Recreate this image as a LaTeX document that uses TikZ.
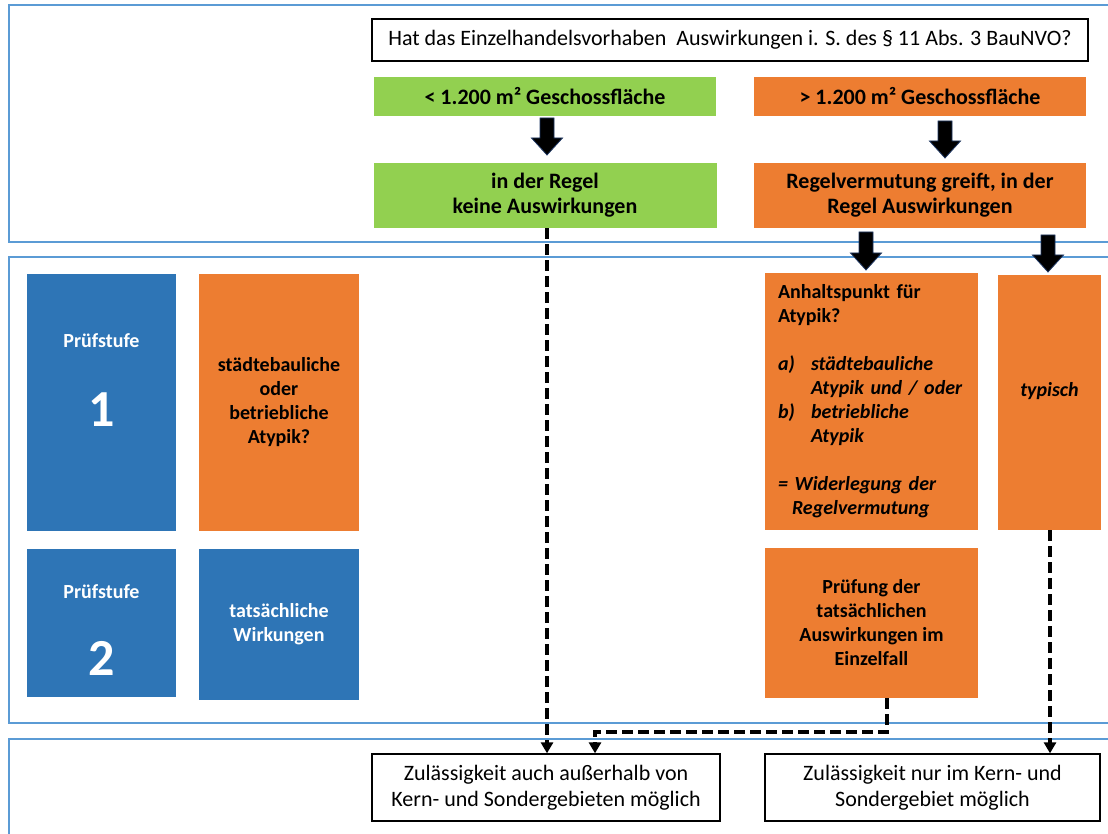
\documentclass[tikz,border=0pt]{standalone}
\usepackage{fontspec}
\setmainfont{Carlito}
\usetikzlibrary{arrows.meta,calc}
\definecolor{bandblue}{HTML}{5B9BD5}
\definecolor{boxblue}{HTML}{2E75B6}
\definecolor{boxorange}{HTML}{ED7D31}
\definecolor{boxgreen}{HTML}{92D050}
\definecolor{arrowedge}{HTML}{1F3864}
\newcommand\blockarrow[3]{%
  \filldraw[fill=black,draw=arrowedge,line width=0.8pt,line join=miter]
    ({#1-7},#2) -- ({#1+7},#2) -- ({#1+7},{#3-17}) -- ({#1+15.5},{#3-17})
    -- (#1,#3) -- ({#1-15.5},{#3-17}) -- ({#1-7},{#3-17}) -- cycle;}
\begin{document}
\begin{tikzpicture}[x=1pt,y=-1pt,
  band/.style={draw=bandblue,line width=1.6pt},
  cbox/.style={rectangle,inner sep=0pt,align=center,font=\fontsize{20}{24}\selectfont\bfseries},
  topfont/.style={font=\fontsize{22}{25}\selectfont\bfseries},
  gbox/.style={cbox,fill=boxgreen},
  obox/.style={cbox,fill=boxorange},
  bbox/.style={cbox,fill=boxblue,text=white},
  wbox/.style={rectangle,draw=black,line width=1.3pt,fill=white,inner sep=0pt,align=center,font=\fontsize{22}{25.5}\selectfont},
  flow/.style={line width=4pt,dash pattern=on 11pt off 5pt,line join=miter,-{Triangle[width=12pt,length=11pt]}},
  wtext/.style={text=white,inner sep=0pt,anchor=base,font=\fontsize{20}{24}\selectfont\bfseries},
  bignum/.style={text=white,inner sep=0pt,anchor=base,font=\fontsize{52}{60}\selectfont\bfseries}
]
\useasboundingbox (0,0) rectangle (1108,834);
\fill[white] (0,0) rectangle (1108,834);
% bands
\draw[band] (9,5) rectangle (1130,242);
\draw[band] (9,257) rectangle (1130,723);
\draw[band] (9,739) rectangle (1130,860);

% top
\node[wbox,minimum width=716pt,minimum height=42pt] (q) at (730,40) {Hat das Einzelhandelsvorhaben\ \ Auswirkungen i. S. des § 11 Abs. 3 BauNVO?};
\node[gbox,topfont,minimum width=342pt,minimum height=39pt] (g1) at (545,96.5) {< 1.200 m² Geschossfläche};
\node[obox,topfont,minimum width=332pt,minimum height=39pt] (o1) at (920,96.5) {> 1.200 m² Geschossfläche};
\node[gbox,topfont,minimum width=343pt,minimum height=65pt] (g2) at (545,195.5) {in der Regel\\keine Auswirkungen};
\node[obox,topfont,minimum width=332pt,minimum height=65pt] (o2) at (920,195.5) {Regelvermutung greift, in der\\Regel Auswirkungen};

% middle left
\node[bbox,minimum width=149pt,minimum height=257pt] (p1) at (101.5,402.5) {};
\node[wtext] (p1a) at (101.5,347.5) {Prüfstufe};
\node[bignum] (p1b) at (101.5,426) {1};
\node[obox,minimum width=160pt,minimum height=257pt] (s1) at (279,402.5) {städtebauliche\\oder\\betriebliche\\Atypik?};
\node[bbox,minimum width=149pt,minimum height=148pt] (p2) at (101.5,623) {};
\node[wtext] (p2a) at (101.5,598) {Prüfstufe};
\node[bignum] (p2b) at (101.5,675) {2};
\node[bbox,minimum width=160pt,minimum height=151pt] (t2) at (279,624.5) {tatsächliche\\Wirkungen};

% middle right
\node[obox,align=left,text width=187pt,inner xsep=13pt,minimum height=257pt] (ah) at (871.5,401.5) {%
Anhaltspunkt für\\
Atypik?\\[24pt]
\textit{\makebox[33pt][l]{a)}städtebauliche}\\
\textit{\hspace*{33pt}Atypik und / oder}\\
\textit{\makebox[33pt][l]{b)}betriebliche}\\
\textit{\hspace*{33pt}Atypik}\\[24pt]
\textit{= Widerlegung der}\\
\textit{\hspace*{14pt}Regelvermutung}};
\node[obox,minimum width=103pt,minimum height=255pt] (ty) at (1049.5,402.5) {};
\node[cbox,anchor=base] (tyt) at (1049.5,396) {\textit{typisch}};
\node[obox,minimum width=213pt,minimum height=150pt] (pr) at (871.5,623) {Prüfung der\\tatsächlichen\\Auswirkungen im\\Einzelfall};

% bottom
\node[wbox,minimum width=348pt,minimum height=67pt] (z1) at (546,787.5) {Zulässigkeit auch außerhalb von\\Kern- und Sondergebieten möglich};
\node[wbox,minimum width=335pt,minimum height=67pt] (z2) at (932.5,787.5) {Zulässigkeit nur im Kern- und\\Sondergebiet möglich};

% block arrows
\blockarrow{547}{118}{155}
\blockarrow{945}{121}{158}
\blockarrow{866}{232}{270}
\blockarrow{1048}{235}{272}

% dashed connectors
\coordinate (c1) at (887,732);
\coordinate (c2) at (595,732);
\coordinate (c3) at (1050,600);
\draw[flow] ([xshift=2pt]g2.south) -- ([xshift=1pt]z1.north);
\draw[flow] (pr.south -| c1) -- (c1) -- (c2) -- (c2 |- z1.north);
\draw[flow] (ty.south -| c3) -- (c3 |- z2.north);
\end{tikzpicture}
\end{document}
